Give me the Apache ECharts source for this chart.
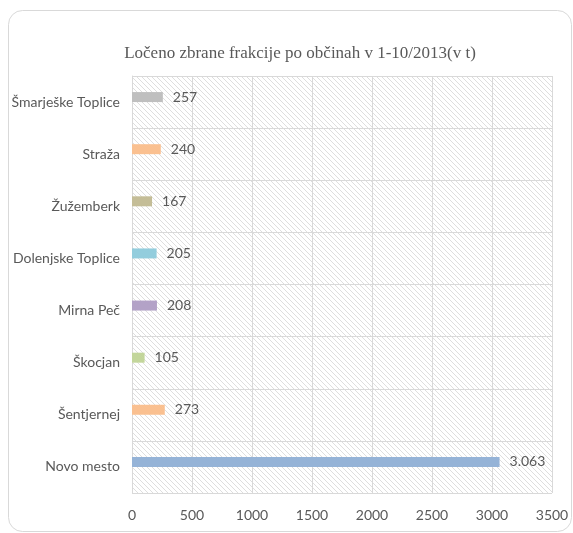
<!DOCTYPE html>
<html>
<head>
<meta charset="utf-8">
<script src="https://cdn.jsdelivr.net/npm/echarts@6/dist/echarts.min.js"></script>
<style>
  html, body { margin: 0; padding: 0; background: #fff; }
  #chart { width: 573px; height: 533px; }
</style>
</head>
<body>
<div id="chart"></div>
<script>
  // categories from bottom to top (ECharts category y-axis starts at the bottom)
  const categories = ['Novo mesto', 'Šentjernej', 'Škocjan', 'Mirna Peč', 'Dolenjske Toplice', 'Žužemberk', 'Straža', 'Šmarješke Toplice'];
  const values = [3063, 273, 105, 208, 205, 167, 240, 257];
  const barColors = ['#95B3D7', '#FAC090', '#C3D69B', '#B3A2C7', '#93CDDD', '#C4BD97', '#FAC090', '#BFBFBF'];
  const xTicks = [0, 500, 1000, 1500, 2000, 2500, 3000, 3500];

  const textFont = 'Lato, "Liberation Sans", sans-serif';

  // diagonal hatch for the plot background
  const makeHatch = () => {
    const s = 5;
    const c = document.createElement('canvas');
    c.width = s;
    c.height = s;
    const ctx = c.getContext('2d');
    ctx.fillStyle = '#ffffff';
    ctx.fillRect(0, 0, s, s);
    ctx.strokeStyle = '#dedede';
    ctx.lineWidth = 1;
    ctx.beginPath();
    ctx.moveTo(-1, -1);
    ctx.lineTo(s + 1, s + 1);
    ctx.moveTo(-1, s - 1);
    ctx.lineTo(1, s + 1);
    ctx.moveTo(s - 1, -1);
    ctx.lineTo(s + 1, 1);
    ctx.stroke();
    return c;
  };

  const fmt = (v) => String(v).replace(/\B(?=(\d{3})+(?!\d))/g, '.');

  const myChart = echarts.init(document.getElementById('chart'));

  const getOption = () => {
    return {
      animation: false,
      backgroundColor: '#fff',
      graphic: [
        {
          type: 'rect',
          shape: { x: 8.5, y: 10.5, width: 563, height: 521, r: 14 },
          style: { fill: 'none', stroke: '#d9d9d9', lineWidth: 1 },
          z: -1,
        },
      ],
      title: {
        text: 'Ločeno zbrane frakcije po občinah v 1-10/2013(v t)',
        left: 295,
        top: 40,
        textAlign: 'center',
        textStyle: {
          fontFamily: '"Liberation Serif", serif',
          fontSize: 17,
          fontWeight: 'normal',
          color: '#595959',
        },
      },
      grid: {
        left: 132,
        right: 21,
        top: 76,
        bottom: 40,
        show: true,
        borderWidth: 0,
        backgroundColor: { image: makeHatch(), repeat: 'repeat' },
      },
      xAxis: {
        type: 'value',
        min: xTicks[0],
        max: xTicks[xTicks.length - 1],
        interval: 500,
        axisLine: { show: false },
        axisTick: { show: false },
        axisLabel: {
          margin: 15,
          color: '#595959',
          fontSize: 14,
          fontFamily: textFont,
          formatter: (v) => String(v),
        },
        splitLine: { show: true, lineStyle: { color: '#d9d9d9', width: 1 } },
      },
      yAxis: {
        type: 'category',
        data: categories,
        axisLine: { show: true, lineStyle: { color: '#d9d9d9', width: 1 } },
        axisTick: { show: false },
        axisLabel: {
          margin: 12,
          color: '#595959',
          fontSize: 14,
          fontFamily: textFont,
        },
        splitLine: { show: true, lineStyle: { color: '#d9d9d9', width: 1 } },
      },
      series: [
        {
          type: 'bar',
          barWidth: 10,
          barGap: '0%',
          data: values.map((v, i) => ({ value: v, itemStyle: { color: barColors[i] } })),
          label: {
            show: true,
            position: 'right',
            distance: 10,
            color: '#595959',
            fontSize: 14,
            fontFamily: textFont,
            formatter: (p) => fmt(p.value),
          },
        },
        {
          // empty companion series so the bars sit above the band centre as in Excel
          type: 'bar',
          barWidth: 10,
          data: categories.map(() => null),
          silent: true,
        },
      ],
    };
  };

  myChart.setOption(getOption());
</script>
</body>
</html>
